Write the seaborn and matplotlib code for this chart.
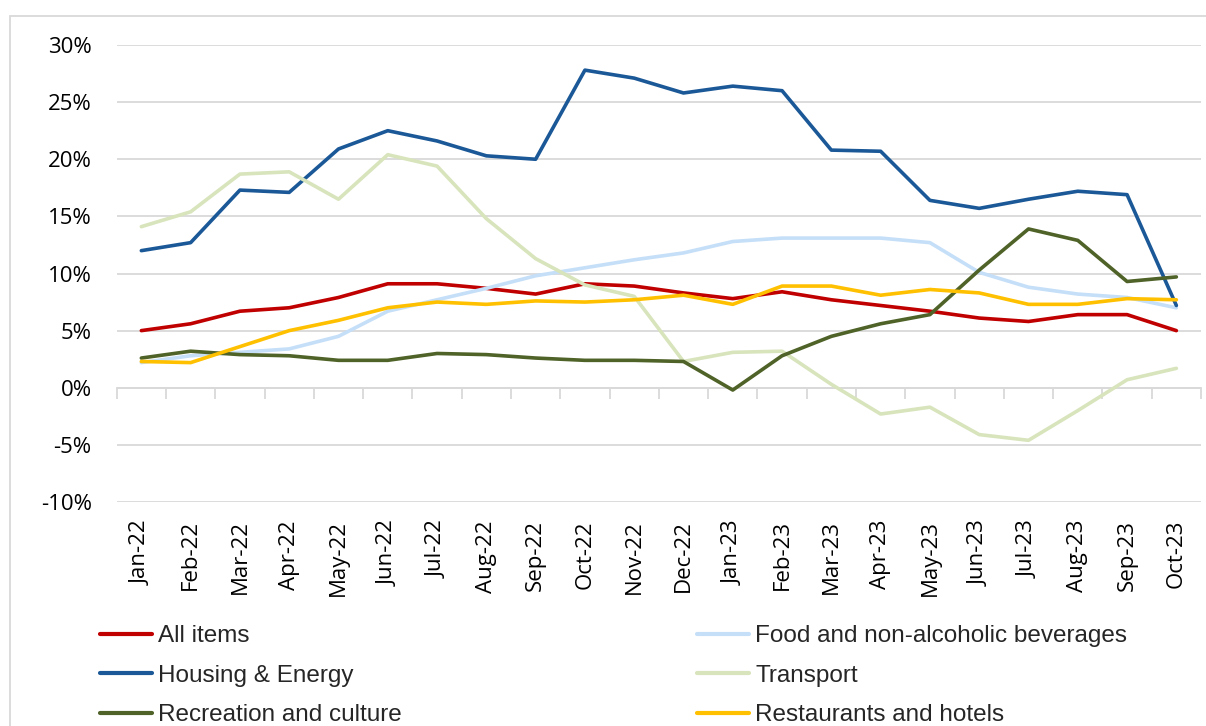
import matplotlib
matplotlib.use("Agg")
import matplotlib.pyplot as plt
import pandas as pd
import seaborn as sns
from matplotlib.lines import Line2D
from matplotlib.patches import Rectangle
from matplotlib.ticker import FuncFormatter

months = [
    "Jan-22", "Feb-22", "Mar-22", "Apr-22", "May-22", "Jun-22", "Jul-22", "Aug-22",
    "Sep-22", "Oct-22", "Nov-22", "Dec-22", "Jan-23", "Feb-23", "Mar-23", "Apr-23",
    "May-23", "Jun-23", "Jul-23", "Aug-23", "Sep-23", "Oct-23",
]
all_items = [5.0, 5.6, 6.7, 7.0, 7.9, 9.1, 9.1, 8.7, 8.2, 9.1, 8.9, 8.3, 7.8, 8.4, 7.7, 7.2, 6.7, 6.1, 5.8, 6.4, 6.4, 5.0]
food = [2.2, 2.8, 3.1, 3.4, 4.5, 6.7, 7.7, 8.7, 9.8, 10.5, 11.2, 11.8, 12.8, 13.1, 13.1, 13.1, 12.7, 10.1, 8.8, 8.2, 7.9, 7.0]
housing = [12.0, 12.7, 17.3, 17.1, 20.9, 22.5, 21.6, 20.3, 20.0, 27.8, 27.1, 25.8, 26.4, 26.0, 20.8, 20.7, 16.4, 15.7, 16.5, 17.2, 16.9, 7.2]
transport = [14.1, 15.4, 18.7, 18.9, 16.5, 20.4, 19.4, 14.8, 11.3, 9.0, 8.0, 2.3, 3.1, 3.2, 0.3, -2.3, -1.7, -4.1, -4.6, -2.0, 0.7, 1.7]
recreation = [2.6, 3.2, 2.9, 2.8, 2.4, 2.4, 3.0, 2.9, 2.6, 2.4, 2.4, 2.3, -0.2, 2.8, 4.5, 5.6, 6.4, 10.3, 13.9, 12.9, 9.3, 9.7]
restaurants = [2.3, 2.2, 3.6, 5.0, 5.9, 7.0, 7.5, 7.3, 7.6, 7.5, 7.7, 8.1, 7.3, 8.9, 8.9, 8.1, 8.6, 8.3, 7.3, 7.3, 7.8, 7.7]

series = {
    "All items": all_items,
    "Food and non-alcoholic beverages": food,
    "Housing & Energy": housing,
    "Transport": transport,
    "Recreation and culture": recreation,
    "Restaurants and hotels": restaurants,
}
palette = {
    "All items": "#C00000",
    "Food and non-alcoholic beverages": "#C5DFF8",
    "Housing & Energy": "#1B5897",
    "Transport": "#D8E4BC",
    "Recreation and culture": "#4F6228",
    "Restaurants and hotels": "#FFC000",
}

df = pd.concat(
    [pd.DataFrame({"month": months, "value": vals, "series": name}) for name, vals in series.items()],
    ignore_index=True,
)

sns.set_theme(style="white")
plt.rcParams["font.family"] = ["Open Sans", "DejaVu Sans"]

fig = plt.figure(figsize=(12.06, 7.26), dpi=100)
ax = fig.add_axes([116.7 / 1206, 1 - 502 / 726, (1201 - 116.7) / 1206, (502 - 45) / 726])

sns.lineplot(data=df, x="month", y="value", hue="series", palette=palette,
             hue_order=list(series.keys()), sort=False, linewidth=2.6, legend=False, ax=ax)

grid_c = "#D9D9D9"
ax.set_ylim(-10, 30)
ax.set_xlim(-0.5, len(months) - 0.5)
ax.set_yticks(range(-10, 31, 5))
ax.yaxis.set_major_formatter(FuncFormatter(lambda v, _: f"{v:.0f}%"))
ax.grid(axis="y", color=grid_c, linewidth=1.3, zorder=0)
ax.set_axisbelow(True)
for s in ax.spines.values():
    s.set_visible(False)
ax.set_xlabel("")
ax.set_ylabel("")
ax.tick_params(axis="y", length=0, pad=18, labelsize=16, colors="black")
ax.tick_params(axis="x", length=0, pad=13, labelsize=16, colors="black", labelrotation=90)
for lab in ax.get_xticklabels():
    lab.set_va("top")

# category axis line at 0% with tick marks between categories
sec = ax.secondary_xaxis(0.25)
sec.spines["bottom"].set_color(grid_c)
sec.spines["bottom"].set_linewidth(1.3)
sec.set_xticks([i - 0.5 for i in range(len(months) + 1)])
sec.set_xticklabels([])
sec.tick_params(axis="x", length=8, width=1.3, color=grid_c, direction="out")

# outer chart frame
fig.patches.append(Rectangle((9.5 / 1206, -0.1), 1.2, 1.1 - 15.5 / 726, transform=fig.transFigure,
                             fill=False, edgecolor=grid_c, linewidth=1.3))

names = list(series.keys())
for col, x0 in ((names[0::2], 100), (names[1::2], 697)):
    handles = [Line2D([], [], color=palette[n], linewidth=3) for n in col]
    fig.legend(handles, col, loc="upper left", bbox_to_anchor=(x0 / 1206, 1 - 625 / 726),
               frameon=False, borderpad=0, borderaxespad=0, handlelength=2.15, handletextpad=0.25,
               labelspacing=0.72, prop={"family": "Liberation Sans", "size": 17.5})

fig.savefig("out.png", dpi=100)
